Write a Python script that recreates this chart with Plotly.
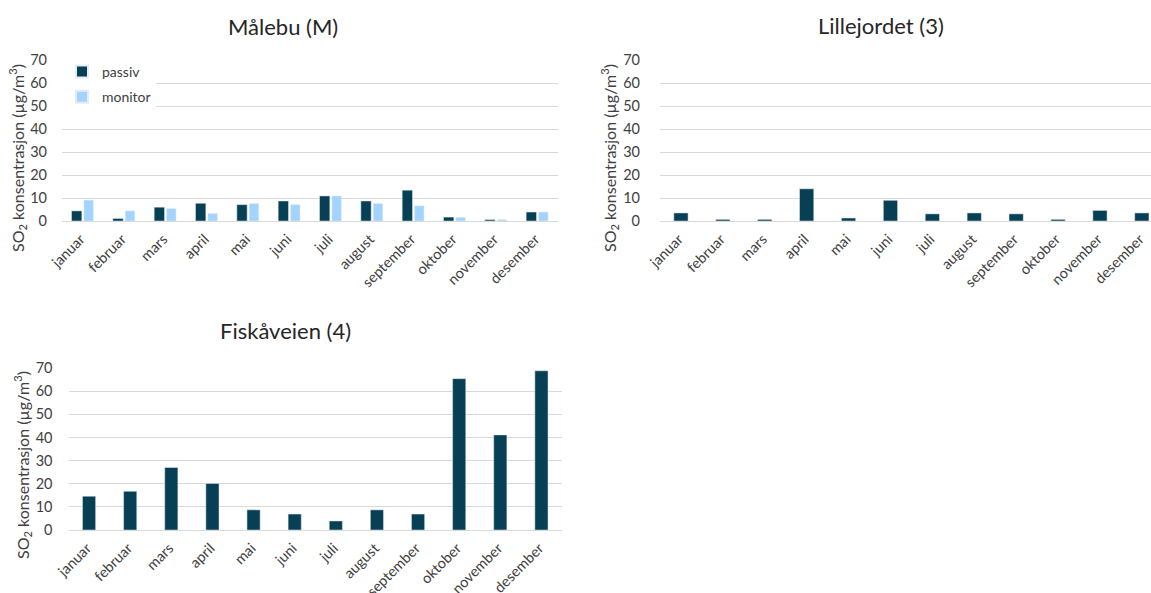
import plotly.graph_objects as go

months = ["januar", "februar", "mars", "april", "mai", "juni", "juli",
          "august", "september", "oktober", "november", "desember"]

malebu_passiv = [4.4, 1.1, 6.0, 7.7, 7.1, 8.7, 10.9, 8.7, 13.4, 1.7, 0.6, 3.9]
malebu_monitor = [9.1, 4.4, 5.4, 3.3, 7.6, 7.1, 10.9, 7.6, 6.6, 1.6, 0.6, 3.9]
lillejordet_passiv = [3.5, 0.7, 0.7, 14.0, 1.3, 9.0, 3.1, 3.5, 3.1, 0.7, 4.6, 3.5]
fiskaveien_passiv = [14.6, 16.7, 27.0, 20.1, 8.7, 6.9, 3.9, 8.7, 6.9, 65.4, 41.1, 68.8]

y_ticks = [0, 10, 20, 30, 40, 50, 60, 70]

DARK = "#073F54"
LIGHT = "#A3D4FF"
GRID = "#D9D9D9"
FONT = "Lato"
TXT = "#404040"

W, H = 1151, 593

def px_x(p):
    return p / W

def px_y(p):
    return 1 - p / H

fig = go.Figure()

fig.add_trace(go.Bar(x=months, y=malebu_passiv, name="passiv", marker_color=DARK,
                     width=0.25, offset=-0.27, xaxis="x", yaxis="y",
                     legendgroup="a"))
fig.add_trace(go.Bar(x=months, y=malebu_monitor, name="monitor", marker_color=LIGHT,
                     width=0.23, offset=0.03, xaxis="x", yaxis="y",
                     legendgroup="b"))
fig.add_trace(go.Bar(x=months, y=lillejordet_passiv, name="passiv", marker_color=DARK,
                     width=0.34, offset=-0.17, xaxis="x2", yaxis="y2", showlegend=False))
fig.add_trace(go.Bar(x=months, y=fiskaveien_passiv, name="passiv", marker_color=DARK,
                     width=0.32, offset=-0.16, xaxis="x3", yaxis="y3", showlegend=False))

def xaxis(domain, rng, anchor):
    return dict(domain=domain, range=rng, anchor=anchor, type="category",
                tickangle=-45, showgrid=False, showline=False, ticks="",
                ticklabelstandoff=6, ticklabelshift=-2,
                tickfont=dict(family=FONT, size=14.5, color=TXT),
                automargin=False, fixedrange=True)

def yaxis(domain, anchor, standoff):
    return dict(domain=domain, range=[0, 70], anchor=anchor, tickvals=y_ticks,
                showgrid=True, gridcolor=GRID, gridwidth=1.3, zeroline=True,
                zerolinecolor=GRID, zerolinewidth=1.3, showline=False, ticks="",
                ticklabelstandoff=standoff,
                tickfont=dict(family=FONT, size=14.5, color=TXT),
                automargin=False, fixedrange=True)

# pixel geometry
x1 = [px_x(62), px_x(558)]
y1 = [px_y(221), px_y(60)]
x2 = [px_x(660), 1.0]
y2 = [px_y(221), px_y(60)]
x3 = [px_x(68.5), px_x(562)]
y3 = [px_y(530), px_y(368)]

rng2_right = (W - 660) / 41.9 - 0.5

fig.update_layout(
    width=W, height=H,
    margin=dict(l=0, r=0, t=0, b=0),
    paper_bgcolor="white", plot_bgcolor="white",
    barmode="group",
    xaxis=xaxis(x1, [-0.5, 11.5], "y"),
    yaxis=yaxis(y1, "x", 14),
    xaxis2=xaxis(x2, [-0.5, rng2_right], "y2"),
    yaxis2=yaxis(y2, "x2", 19),
    xaxis3=xaxis(x3, [-0.5, 11.5], "y3"),
    yaxis3=yaxis(y3, "x3", 15),
    showlegend=True,
    legend=dict(x=px_x(62), y=px_y(56), xanchor="left", yanchor="top",
                bgcolor="white", font=dict(family=FONT, size=14, color=TXT),
                tracegroupgap=4, itemwidth=30, itemsizing="constant",
                traceorder="grouped"),
    font=dict(family=FONT, color=TXT),
)

ytitle = "SO<sub>2</sub> konsentrasjon (µg/m<sup>3</sup>)"
annotations = [
    dict(text="Målebu (M)", x=px_x(283), y=px_y(27)),
    dict(text="Lillejordet (3)", x=px_x(881), y=px_y(25)),
    dict(text="Fiskåveien (4)", x=px_x(285), y=px_y(330)),
]
for a in annotations:
    fig.add_annotation(text=a["text"], x=a["x"], y=a["y"], xref="paper", yref="paper",
                       xanchor="center", yanchor="middle", showarrow=False,
                       font=dict(family=FONT, size=22, color="#262626"))

for (xp, yp) in [(17, 158), (609, 158), (22, 465)]:
    fig.add_annotation(text=ytitle, x=px_x(xp), y=px_y(yp), xref="paper", yref="paper",
                       xanchor="center", yanchor="middle", showarrow=False, textangle=-90,
                       font=dict(family=FONT, size=16, color=TXT))

fig.write_html("out.html", config={"displayModeBar": False},
               post_script="document.body.style.margin='0';document.body.style.padding='0';")
